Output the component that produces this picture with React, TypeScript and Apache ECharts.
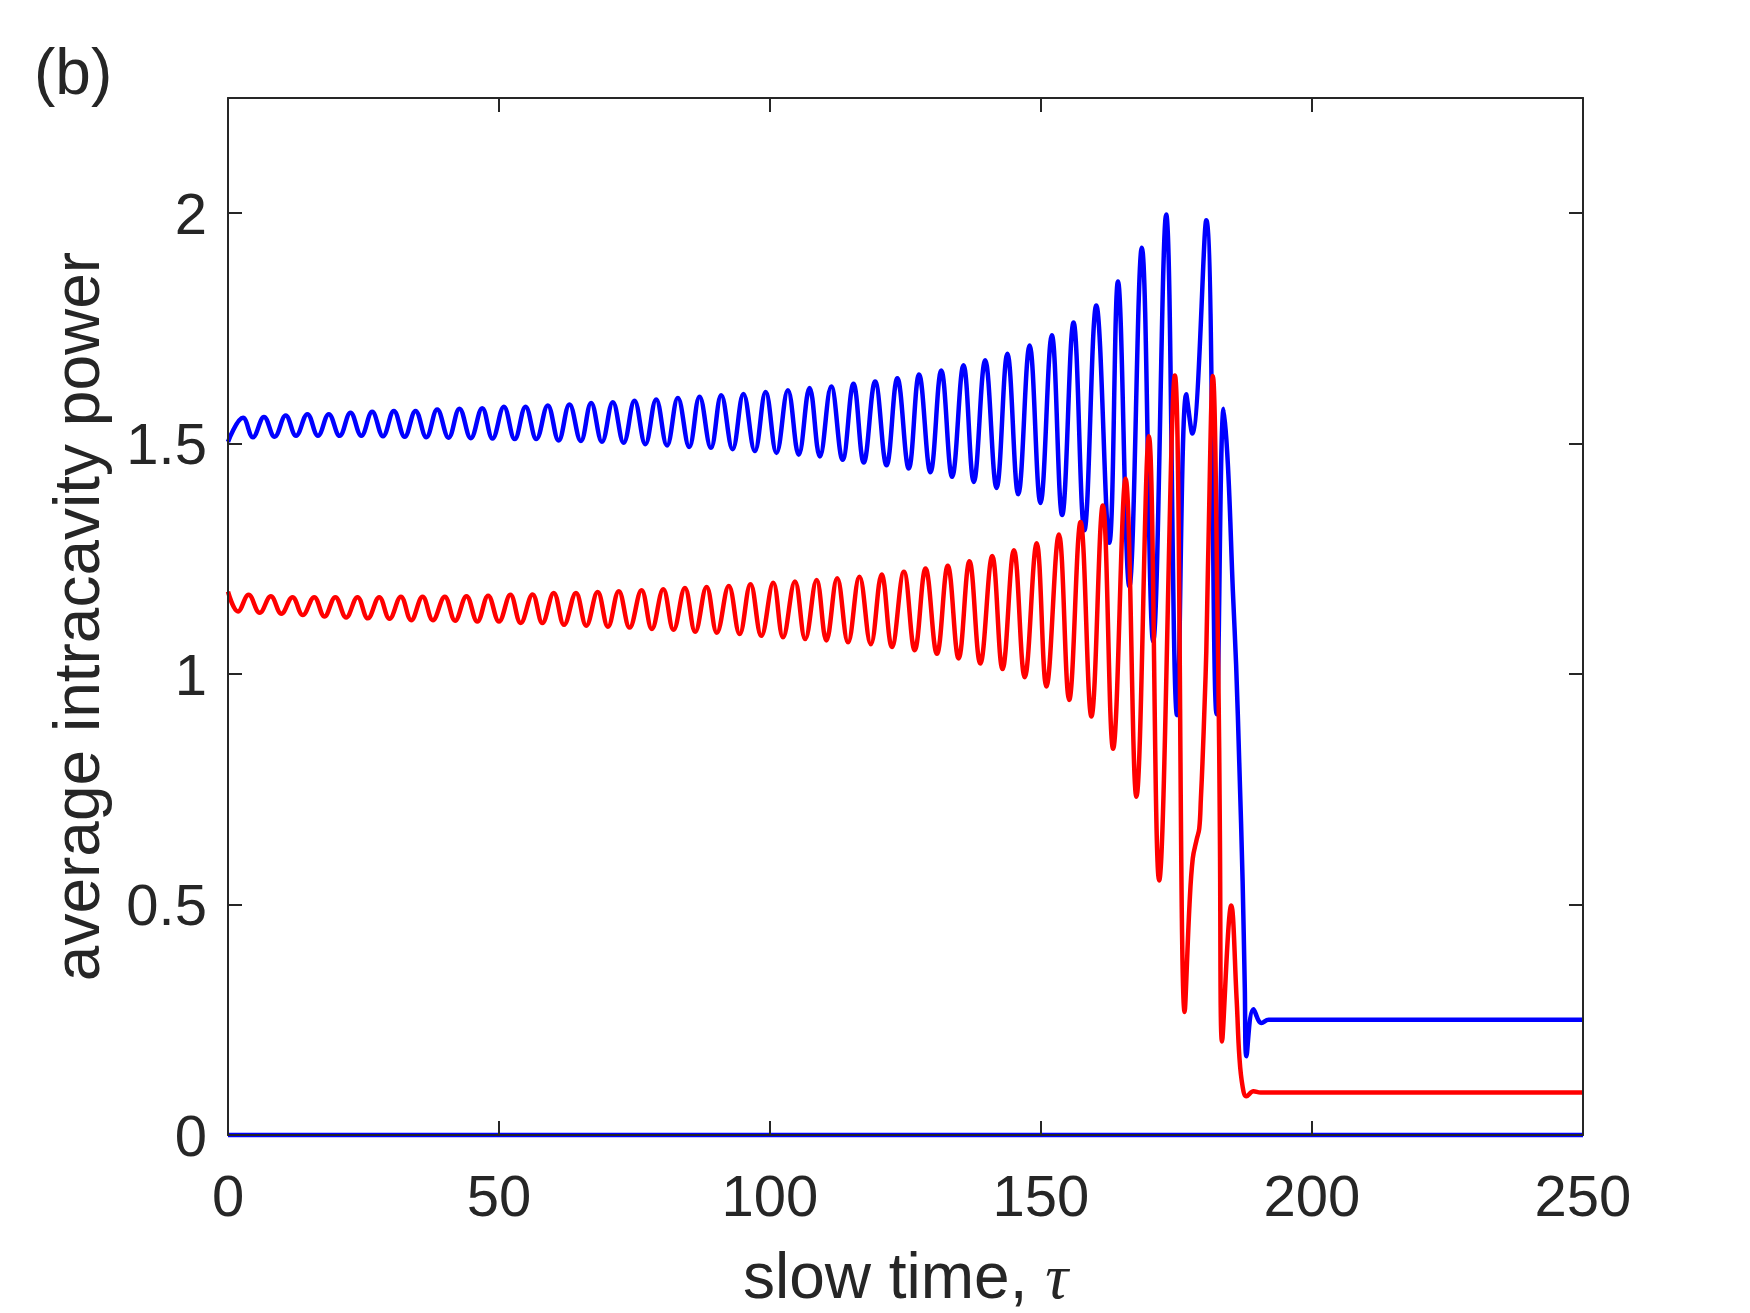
import React, { useEffect, useRef } from "react";
import * as echarts from "echarts";

// ---- data ----
const xTicks = [0, 50, 100, 150, 200, 250];
const yTicks = [0, 0.5, 1, 1.5, 2];

const blueTime = [
  0, 2.77, 4.6, 6.64, 8.6, 10.65, 12.55, 14.65, 16.6, 18.6, 20.6, 22.6, 24.6, 26.6, 28.6, 30.6, 32.6, 34.6, 36.6,
  38.6, 40.7, 42.7, 44.8, 46.9, 48.8, 50.9, 52.9, 54.9, 56.9, 59.0, 61.0, 63.0, 65.1, 67.0, 69.0, 71.0, 73.0, 75.0,
  77.0, 79.0, 81.0, 83.0, 85.1, 87.0, 89.1, 91.0, 93.1, 95.1, 97.2, 99.2, 101.2, 103.3, 105.3, 107.3, 109.2, 111.3,
  113.4, 115.4, 117.3, 119.4, 121.5, 123.5, 125.6, 127.5, 129.6, 131.6, 133.6, 135.7, 137.6, 139.7, 141.8, 143.8,
  145.8, 147.9, 149.9, 152.0, 153.9, 156.0, 158.0, 160.2, 162.6, 164.2, 166.3, 168.6, 170.7, 173.1, 175.1, 176.8,
  177.9, 180.5, 182.4, 183.7, 184.5, 185.4, 186.0, 186.6, 187.2, 187.6, 187.9, 189.2, 190.7, 192.0, 250,
];
const bluePower = [
  1.504, 1.556, 1.514, 1.558, 1.515, 1.561, 1.517, 1.564, 1.517, 1.564, 1.517, 1.567, 1.517, 1.569, 1.516, 1.571,
  1.515, 1.571, 1.514, 1.574, 1.513, 1.576, 1.512, 1.577, 1.511, 1.58, 1.51, 1.58, 1.51, 1.583, 1.507, 1.585, 1.506,
  1.588, 1.504, 1.59, 1.502, 1.593, 1.499, 1.596, 1.496, 1.599, 1.493, 1.602, 1.491, 1.605, 1.488, 1.608, 1.484,
  1.612, 1.48, 1.616, 1.476, 1.621, 1.472, 1.624, 1.465, 1.63, 1.459, 1.635, 1.453, 1.642, 1.446, 1.65, 1.438, 1.659,
  1.428, 1.67, 1.417, 1.681, 1.404, 1.695, 1.39, 1.713, 1.371, 1.735, 1.345, 1.763, 1.312, 1.8, 1.285, 1.852, 1.19,
  1.925, 1.071, 1.997, 0.911, 1.607, 1.522, 1.985, 0.913, 1.576, 1.45, 1.18, 1.02, 0.8, 0.55, 0.32, 0.171, 0.273,
  0.243, 0.25, 0.25,
];

const redTime = [
  0, 1.85, 3.8, 5.85, 7.9, 9.85, 11.9, 13.8, 15.9, 17.8, 19.8, 21.8, 23.9, 25.8, 27.9, 29.8, 31.9, 33.8, 35.9, 37.8,
  40.0, 41.9, 44.0, 46.0, 48.0, 50.0, 52.1, 54.0, 56.2, 58.0, 60.1, 62.0, 64.2, 66.1, 68.2, 70.1, 72.1, 74.1, 76.3,
  78.2, 80.3, 82.2, 84.3, 86.2, 88.3, 90.2, 92.4, 94.4, 96.4, 98.4, 100.6, 102.4, 104.6, 106.5, 108.6, 110.4, 112.4,
  114.4, 116.5, 118.6, 120.6, 122.5, 124.7, 126.7, 128.7, 130.8, 132.8, 134.8, 136.8, 138.8, 141.0, 142.9, 145.0,
  147.0, 149.2, 151.0, 153.3, 155.2, 157.3, 159.3, 161.4, 163.3, 165.6, 167.6, 169.9, 171.8, 174.7, 176.5, 177.4,
  178.0, 178.7, 179.2, 179.5, 179.8, 180.2, 180.5, 180.8, 181.7, 182.7, 183.0, 183.4, 185.1, 186.1, 186.6, 187.2,
  187.9, 189.2, 190.5, 250,
];
const redPower = [
  1.179, 1.136, 1.172, 1.133, 1.169, 1.131, 1.167, 1.128, 1.167, 1.125, 1.167, 1.123, 1.167, 1.121, 1.167, 1.12,
  1.168, 1.117, 1.168, 1.117, 1.168, 1.116, 1.169, 1.114, 1.17, 1.114, 1.172, 1.111, 1.173, 1.111, 1.176, 1.107,
  1.176, 1.105, 1.178, 1.103, 1.18, 1.101, 1.182, 1.098, 1.184, 1.096, 1.187, 1.092, 1.189, 1.09, 1.191, 1.087, 1.195,
  1.083, 1.198, 1.08, 1.201, 1.076, 1.204, 1.073, 1.208, 1.069, 1.211, 1.065, 1.216, 1.059, 1.222, 1.052, 1.229,
  1.044, 1.235, 1.034, 1.245, 1.023, 1.256, 1.011, 1.269, 0.993, 1.284, 0.973, 1.303, 0.944, 1.33, 0.908, 1.366,
  0.838, 1.424, 0.734, 1.516, 0.552, 1.648, 0.267, 0.5, 0.6, 0.64, 0.665, 0.73, 0.81, 0.94, 1.05, 1.23, 1.647, 1.02,
  0.66, 0.203, 0.498, 0.293, 0.17, 0.105, 0.084, 0.095, 0.092, 0.092,
];

const zeroTime = [0, 250];
const zeroPower = [0, 0];

const pairs = (xs: number[], ys: number[]) => xs.map((x, i) => [x, ys[i]]);

const SANS = "'Liberation Sans', Arial, Helvetica, sans-serif";
const INK = "#262626";

export default function App() {
  const ref = useRef<HTMLDivElement>(null);

  useEffect(() => {
    if (!ref.current) return;
    const chart = echarts.init(ref.current, null, { renderer: "svg" });

    const axisLine = { show: true, onZero: false, lineStyle: { color: INK, width: 2 } };
    const axisTick = { show: true, inside: true, length: 14, lineStyle: { color: INK, width: 2 } };

    chart.setOption({
      animation: false,
      backgroundColor: "#ffffff",
      grid: { left: 228, top: 98, width: 1355, height: 1037, containLabel: false },
      graphic: [
        {
          type: "text",
          x: 34,
          y: 72,
          style: {
            text: "(b)",
            fontSize: 64,
            fontFamily: SANS,
            fill: INK,
            align: "left",
            verticalAlign: "middle",
          },
        },
      ],
      xAxis: [
        {
          type: "value",
          position: "bottom",
          min: xTicks[0],
          max: xTicks[xTicks.length - 1],
          interval: xTicks[1] - xTicks[0],
          z: 5,
          axisLine,
          axisTick,
          splitLine: { show: false },
          axisLabel: { fontSize: 58, color: INK, fontFamily: SANS, margin: 31 },
          name: "slow time, {t|τ}",
          nameLocation: "middle",
          nameGap: 109,
          nameTextStyle: {
            fontSize: 64,
            color: INK,
            fontFamily: SANS,
            rich: {
              t: { fontSize: 64, color: INK, fontFamily: "'Liberation Serif', 'DejaVu Serif', serif", fontStyle: "italic" },
            },
          },
        },
        {
          type: "value",
          position: "top",
          min: xTicks[0],
          max: xTicks[xTicks.length - 1],
          interval: xTicks[1] - xTicks[0],
          z: 5,
          axisLine,
          axisTick,
          splitLine: { show: false },
          axisLabel: { show: false },
        },
      ],
      yAxis: [
        {
          type: "value",
          position: "left",
          min: 0,
          max: 2.25,
          interval: yTicks[1] - yTicks[0],
          z: 5,
          axisLine,
          axisTick,
          splitLine: { show: false },
          axisLabel: {
            fontSize: 58,
            color: INK,
            fontFamily: SANS,
            margin: 21,
            showMaxLabel: false,
            formatter: (v: number) => (yTicks.indexOf(v) >= 0 ? String(v) : ""),
          },
          name: "average intracavity power",
          nameLocation: "middle",
          nameGap: 119,
          nameTextStyle: { fontSize: 64, color: INK, fontFamily: SANS },
        },
        {
          type: "value",
          position: "right",
          min: 0,
          max: 2.25,
          interval: yTicks[1] - yTicks[0],
          z: 5,
          axisLine,
          axisTick,
          splitLine: { show: false },
          axisLabel: { show: false },
        },
      ],
      series: [
        {
          name: "zero",
          type: "line",
          data: pairs(zeroTime, zeroPower),
          showSymbol: false,
          clip: false,
          lineStyle: { color: "#0000ff", width: 4.5 },
          z: 1,
        },
        {
          name: "blue",
          type: "line",
          data: pairs(blueTime, bluePower),
          showSymbol: false,
          smooth: 0.4,
          lineStyle: { color: "#0000ff", width: 4.5 },
          z: 2,
        },
        {
          name: "red",
          type: "line",
          data: pairs(redTime, redPower),
          showSymbol: false,
          smooth: 0.4,
          lineStyle: { color: "#ff0000", width: 4.5 },
          z: 3,
        },
      ],
    });

    return () => chart.dispose();
  }, []);

  return (
    <div
      ref={ref}
      style={{ position: "absolute", left: 0, top: 0, width: 1750, height: 1313, background: "#fff" }}
    />
  );
}
